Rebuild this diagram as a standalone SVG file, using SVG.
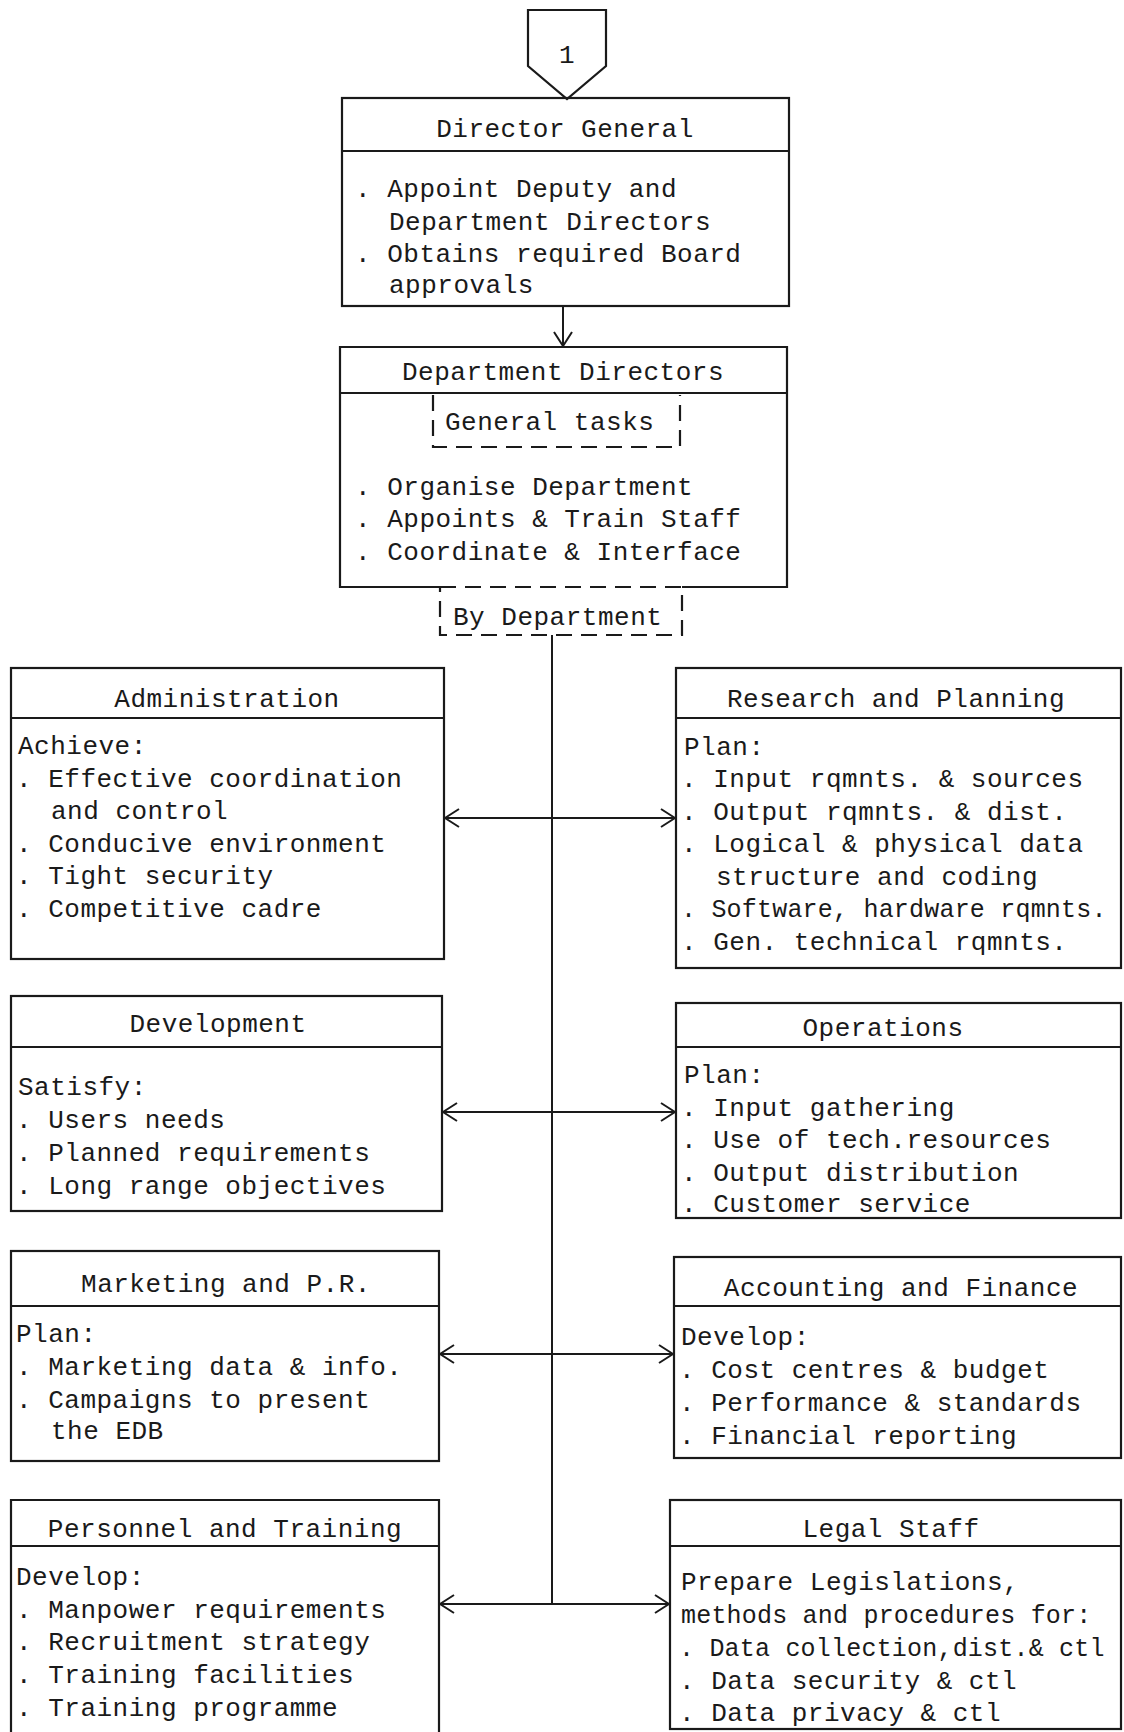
<svg xmlns="http://www.w3.org/2000/svg" width="1124" height="1732" viewBox="0 0 1124 1732">
<defs>
<style>
.box{fill:none;stroke:#1a1a1a;stroke-width:2.2}
.dash{fill:none;stroke:#1a1a1a;stroke-width:2.2;stroke-dasharray:16 9}
.ln{fill:none;stroke:#1a1a1a;stroke-width:2}
.t{font-family:"Liberation Mono","DejaVu Sans Mono",monospace;font-size:26px;fill:#1a1a1a;letter-spacing:0.5px}
.n{font-size:25px;letter-spacing:0.2px}
.c{text-anchor:middle}
</style>
<marker id="ah" viewBox="0 0 16 20" refX="15" refY="10" markerWidth="16" markerHeight="20" markerUnits="userSpaceOnUse" orient="auto-start-reverse">
<path d="M1,1 L15,10 L1,19" fill="none" stroke="#1a1a1a" stroke-width="2"/>
</marker>
</defs>
<rect width="1124" height="1732" fill="#ffffff"/>

<g id="connectors">
<line class="ln" x1="563" y1="306" x2="563" y2="346" marker-end="url(#ah)"/>
<line class="ln" x1="552" y1="635" x2="552" y2="1604"/>
<line class="ln" x1="445" y1="818" x2="675" y2="818" marker-start="url(#ah)" marker-end="url(#ah)"/>
<line class="ln" x1="443" y1="1112" x2="675" y2="1112" marker-start="url(#ah)" marker-end="url(#ah)"/>
<line class="ln" x1="440" y1="1354" x2="673" y2="1354" marker-start="url(#ah)" marker-end="url(#ah)"/>
<line class="ln" x1="440" y1="1604" x2="669" y2="1604" marker-start="url(#ah)" marker-end="url(#ah)"/>
</g>

<g id="offpage-connector">
<polygon class="box" points="528,10 606,10 606,66 567,99 528,66"/>
<text class="t c" x="567" y="63">1</text>
</g>

<g id="director-general">
<rect class="box" x="342" y="98" width="447" height="208"/>
<line class="box" x1="342" y1="151" x2="789" y2="151"/>
<text class="t c" x="565" y="137">Director General</text>
<text class="t" x="355" y="197" xml:space="preserve">. Appoint Deputy and</text>
<text class="t" x="389" y="230">Department Directors</text>
<text class="t" x="355" y="262" xml:space="preserve">. Obtains required Board</text>
<text class="t" x="389" y="293">approvals</text>
</g>

<g id="department-directors">
<path class="box" d="M440,587 H340 V347 H787 V587 H682"/>
<line class="box" x1="340" y1="393" x2="787" y2="393"/>
<text class="t c" x="563" y="380">Department Directors</text>
<path class="dash" d="M433,395 V447 H680 V395"/>
<text class="t" x="445" y="430">General tasks</text>
<text class="t" x="355" y="495" xml:space="preserve">. Organise Department</text>
<text class="t" x="355" y="527" xml:space="preserve">. Appoints &amp; Train Staff</text>
<text class="t" x="355" y="560" xml:space="preserve">. Coordinate &amp; Interface</text>
</g>

<g id="by-department">
<rect class="dash" x="440" y="587" width="242" height="48"/>
<text class="t" x="453" y="625">By Department</text>
</g>

<g id="administration">
<rect class="box" x="11" y="668" width="433" height="291"/>
<line class="box" x1="11" y1="718" x2="444" y2="718"/>
<text class="t c" x="227" y="707">Administration</text>
<text class="t" x="18" y="754">Achieve:</text>
<text class="t" x="16" y="787" xml:space="preserve">. Effective coordination</text>
<text class="t" x="51" y="819">and control</text>
<text class="t" x="16" y="852" xml:space="preserve">. Conducive environment</text>
<text class="t" x="16" y="884" xml:space="preserve">. Tight security</text>
<text class="t" x="16" y="917" xml:space="preserve">. Competitive cadre</text>
</g>

<g id="research-planning">
<rect class="box" x="676" y="668" width="445" height="300"/>
<line class="box" x1="676" y1="718" x2="1121" y2="718"/>
<text class="t c" x="896" y="707">Research and Planning</text>
<text class="t" x="684" y="755">Plan:</text>
<text class="t" x="681" y="787" xml:space="preserve">. Input rqmnts. &amp; sources</text>
<text class="t" x="681" y="820" xml:space="preserve">. Output rqmnts. &amp; dist.</text>
<text class="t" x="681" y="852" xml:space="preserve">. Logical &amp; physical data</text>
<text class="t" x="716" y="885">structure and coding</text>
<text class="t n" x="681" y="917" xml:space="preserve">. Software, hardware rqmnts.</text>
<text class="t" x="681" y="950" xml:space="preserve">. Gen. technical rqmnts.</text>
</g>

<g id="development">
<rect class="box" x="11" y="996" width="431" height="215"/>
<line class="box" x1="11" y1="1047" x2="442" y2="1047"/>
<text class="t c" x="218" y="1032">Development</text>
<text class="t" x="18" y="1095">Satisfy:</text>
<text class="t" x="16" y="1128" xml:space="preserve">. Users needs</text>
<text class="t" x="16" y="1161" xml:space="preserve">. Planned requirements</text>
<text class="t" x="16" y="1194" xml:space="preserve">. Long range objectives</text>
</g>

<g id="operations">
<rect class="box" x="676" y="1003" width="445" height="215"/>
<line class="box" x1="676" y1="1047" x2="1121" y2="1047"/>
<text class="t c" x="883" y="1036">Operations</text>
<text class="t" x="684" y="1083">Plan:</text>
<text class="t" x="681" y="1116" xml:space="preserve">. Input gathering</text>
<text class="t" x="681" y="1148" xml:space="preserve">. Use of tech.resources</text>
<text class="t" x="681" y="1181" xml:space="preserve">. Output distribution</text>
<text class="t" x="681" y="1212" xml:space="preserve">. Customer service</text>
</g>

<g id="marketing-pr">
<rect class="box" x="11" y="1251" width="428" height="210"/>
<line class="box" x1="11" y1="1306" x2="439" y2="1306"/>
<text class="t c" x="226" y="1292">Marketing and P.R.</text>
<text class="t" x="16" y="1342">Plan:</text>
<text class="t" x="16" y="1375" xml:space="preserve">. Marketing data &amp; info.</text>
<text class="t" x="16" y="1408" xml:space="preserve">. Campaigns to present</text>
<text class="t" x="51" y="1439">the EDB</text>
</g>

<g id="accounting-finance">
<rect class="box" x="674" y="1257" width="447" height="201"/>
<line class="box" x1="674" y1="1306" x2="1121" y2="1306"/>
<text class="t c" x="901" y="1296">Accounting and Finance</text>
<text class="t" x="681" y="1345">Develop:</text>
<text class="t" x="679" y="1378" xml:space="preserve">. Cost centres &amp; budget</text>
<text class="t" x="679" y="1411" xml:space="preserve">. Performance &amp; standards</text>
<text class="t" x="679" y="1444" xml:space="preserve">. Financial reporting</text>
</g>

<g id="personnel-training">
<path class="box" d="M11,1740 V1500 H439 V1740"/>
<line class="box" x1="11" y1="1546" x2="439" y2="1546"/>
<text class="t c" x="225" y="1537">Personnel and Training</text>
<text class="t" x="16" y="1585">Develop:</text>
<text class="t" x="16" y="1618" xml:space="preserve">. Manpower requirements</text>
<text class="t" x="16" y="1650" xml:space="preserve">. Recruitment strategy</text>
<text class="t" x="16" y="1683" xml:space="preserve">. Training facilities</text>
<text class="t" x="16" y="1716" xml:space="preserve">. Training programme</text>
</g>

<g id="legal-staff">
<rect class="box" x="670" y="1500" width="451" height="229"/>
<line class="box" x1="670" y1="1546" x2="1121" y2="1546"/>
<text class="t c" x="891" y="1537">Legal Staff</text>
<text class="t" x="681" y="1590">Prepare Legislations,</text>
<text class="t n" x="681" y="1623">methods and procedures for:</text>
<text class="t n" x="679" y="1656" xml:space="preserve">. Data collection,dist.&amp; ctl</text>
<text class="t" x="679" y="1689" xml:space="preserve">. Data security &amp; ctl</text>
<text class="t" x="679" y="1721" xml:space="preserve">. Data privacy &amp; ctl</text>
</g>
</svg>
